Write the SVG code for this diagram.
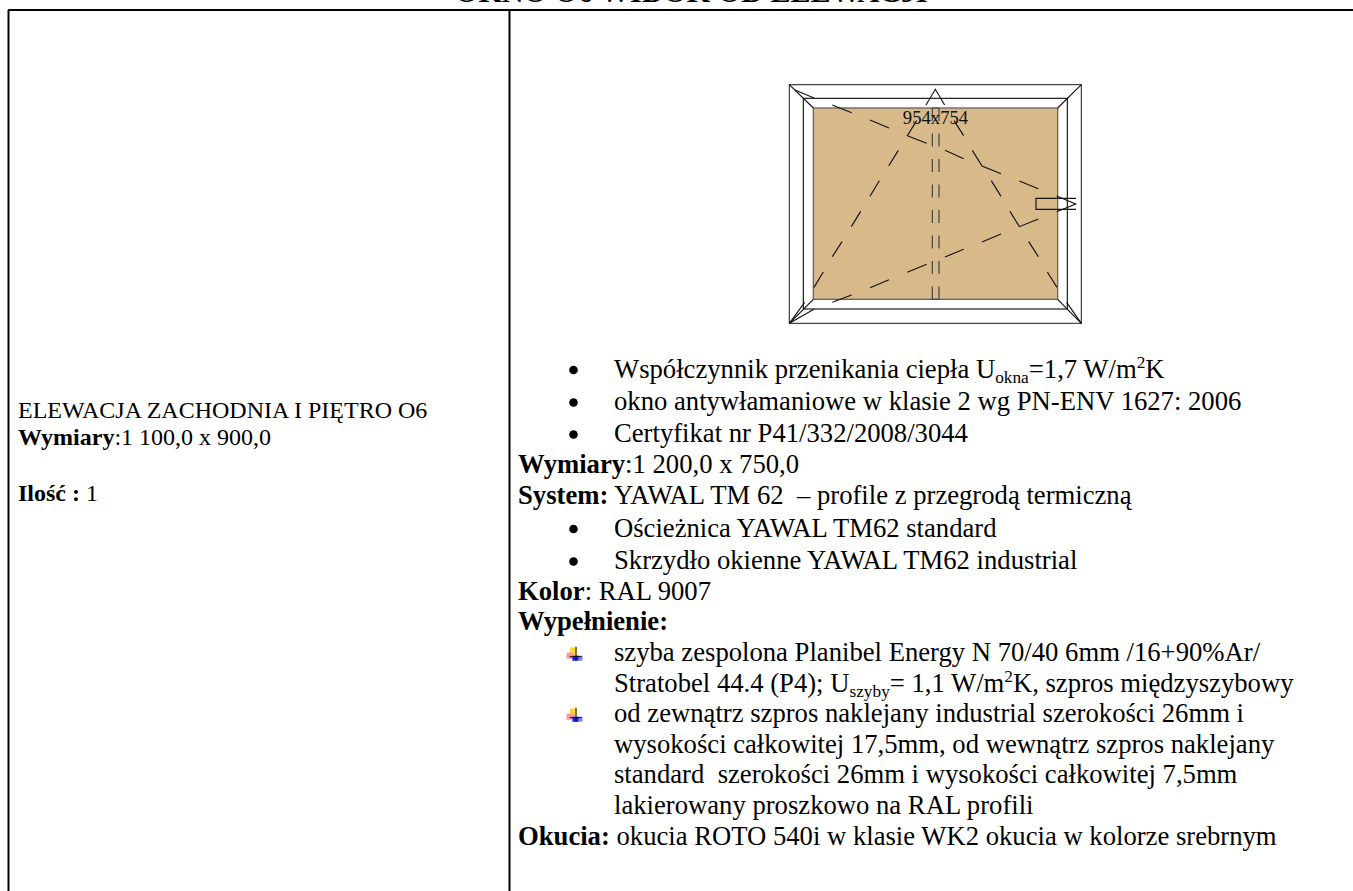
<svg xmlns="http://www.w3.org/2000/svg" width="1353" height="891" viewBox="0 0 1353 891">
<style>
text{font-family:"Liberation Serif","Times New Roman",serif;fill:#000;white-space:pre}
.lc{font-size:24px}
.rc{font-size:26.67px}
.b{font-weight:bold}
.lab{font-size:18.7px;fill:#111}
.sm{font-size:17.3px}
.g{stroke:#000;stroke-width:2;fill:none}
.l{stroke:#111;stroke-width:3.4;fill:none}
.m{stroke:#444;stroke-width:3.6;fill:none;stroke-dasharray:39 37.500}
</style>
<defs>
<g id="ico">
<rect x="3.300" y="0.700" width="7" height="8" fill="#fdd835"/>
<rect x="0" y="6" width="7" height="6" fill="#f8989f"/>
<rect x="6" y="9" width="10" height="5" fill="#8088f8"/>
<rect x="6" y="9" width="6" height="5" fill="#2020f0"/>
<path d="M9.500 0V14M3.300 10H15.300" stroke="#111" stroke-width="1" fill="none"/>
</g>
</defs>
<rect width="1353" height="891" fill="#fff"/>
<text x="455" y="2" class="b" style="font-size:30.1px">OKNO O6 WIDOK OD ELEWACJI</text>
<g id="table">
<path class="g" d="M8 10H1353M8.500 10V891M509.500 10V891"/>
</g>
<g id="left-cell">
<text class="lc" x="18" y="418">ELEWACJA ZACHODNIA I PIĘTRO O6</text>
<text class="lc" x="18" y="445"><tspan class="b">Wymiary</tspan>:1 100,0 x 900,0</text>
<text class="lc" x="18" y="501"><tspan class="b">Ilość : </tspan>1</text>
</g>
<g id="window">
<g transform="translate(770 70) scale(.33333)">
<rect x="58" y="44" width="876" height="716" fill="#fff" stroke="#333" stroke-width="3.400"/>
<rect x="100" y="85" width="792" height="632" fill="#fff" stroke="#111" stroke-width="3.400"/>
<rect x="130" y="114" width="733" height="574" fill="#d8b98a" stroke="#666" stroke-width="4"/>
<path class="l" d="M58 44L130 114M934 44L863 114M58 760L130 688M934 760L863 688"/>
<path class="l" d="M75 60L132 84M187 105L245 128M300 150L357 174M440 152L412 197L470 220M525 241L581 266M607 241L636 288L693 311M748 333L805 356M860 378L917 402L860 425"/>
<path class="l" d="M805 447L748 470L720 424M693 492L636 516M581 538L525 561M470 583L412 607M357 629L300 653M245 675L187 697M132 718L58 760L104 697"/>
<path class="l" d="M468 105L496 58L524 105M552 152L581 197M385 241L356 288M328 332L300 379M272 424L244 470M216 515L187 560M160 606L132 652M664 332L693 379M776 515L805 560M832 606L861 652M890 697L934 760"/>
<path class="l" d="M918 385H798V418H918"/>
<path class="m" d="M487 114V688M507 114V688"/>
<path d="M487 114H507M487 688H507" stroke="#444" stroke-width="3.600"/>
</g>
<text x="935.500" y="124" text-anchor="middle" class="lab">954x754</text>
</g>
<g id="right-cell">
<circle cx="573.500" cy="370" r="4.300"/><circle cx="573.500" cy="402.500" r="4.300"/><circle cx="573.500" cy="434.500" r="4.300"/>
<text class="rc" x="614" y="377.500">Współczynnik przenikania ciepła U<tspan class="sm" dy="5">okna</tspan><tspan dy="-5">=1,7 W/m</tspan><tspan class="sm" dy="-10">2</tspan><tspan dy="10">K</tspan></text>
<text class="rc" x="614" y="410">okno antywłamaniowe w klasie 2 wg PN-ENV 1627: 2006</text>
<text class="rc" x="614" y="441.500">Certyfikat nr P41/332/2008/3044</text>
<text class="rc" x="518" y="473"><tspan class="b">Wymiary</tspan>:1 200,0 x 750,0</text>
<text class="rc" x="518" y="504"><tspan class="b">System:</tspan> YAWAL TM 62  – profile z przegrodą termiczną</text>
<circle cx="573.500" cy="529" r="4.300"/><circle cx="573.500" cy="561.500" r="4.300"/>
<text class="rc" x="614" y="536.500">Ościeżnica YAWAL TM62 standard</text>
<text class="rc" x="614" y="568.500">Skrzydło okienne YAWAL TM62 industrial</text>
<text class="rc" x="518" y="599.500"><tspan class="b">Kolor</tspan>: RAL 9007</text>
<text class="rc b" x="518" y="630">Wypełnienie:</text>
<use href="#ico" x="566.500" y="646.700"/><use href="#ico" x="566.500" y="707.700"/>
<text class="rc" x="614" y="661">szyba zespolona Planibel Energy N 70/40 6mm /16+90%Ar/</text>
<text class="rc" x="614" y="692">Stratobel 44.4 (P4); U<tspan class="sm" dy="5">szyby</tspan><tspan dy="-5">= 1,1 W/m</tspan><tspan class="sm" dy="-10">2</tspan><tspan dy="10">K, szpros międzyszybowy</tspan></text>
<text class="rc" x="614" y="722">od zewnątrz szpros naklejany industrial szerokości 26mm i</text>
<text class="rc" x="614" y="753">wysokości całkowitej 17,5mm, od wewnątrz szpros naklejany</text>
<text class="rc" x="614" y="783">standard  szerokości 26mm i wysokości całkowitej 7,5mm</text>
<text class="rc" x="614" y="813.500">lakierowany proszkowo na RAL profili</text>
<text class="rc" x="518" y="844.500"><tspan class="b">Okucia:</tspan> okucia ROTO 540i w klasie WK2 okucia w kolorze srebrnym</text>
</g>
</svg>
